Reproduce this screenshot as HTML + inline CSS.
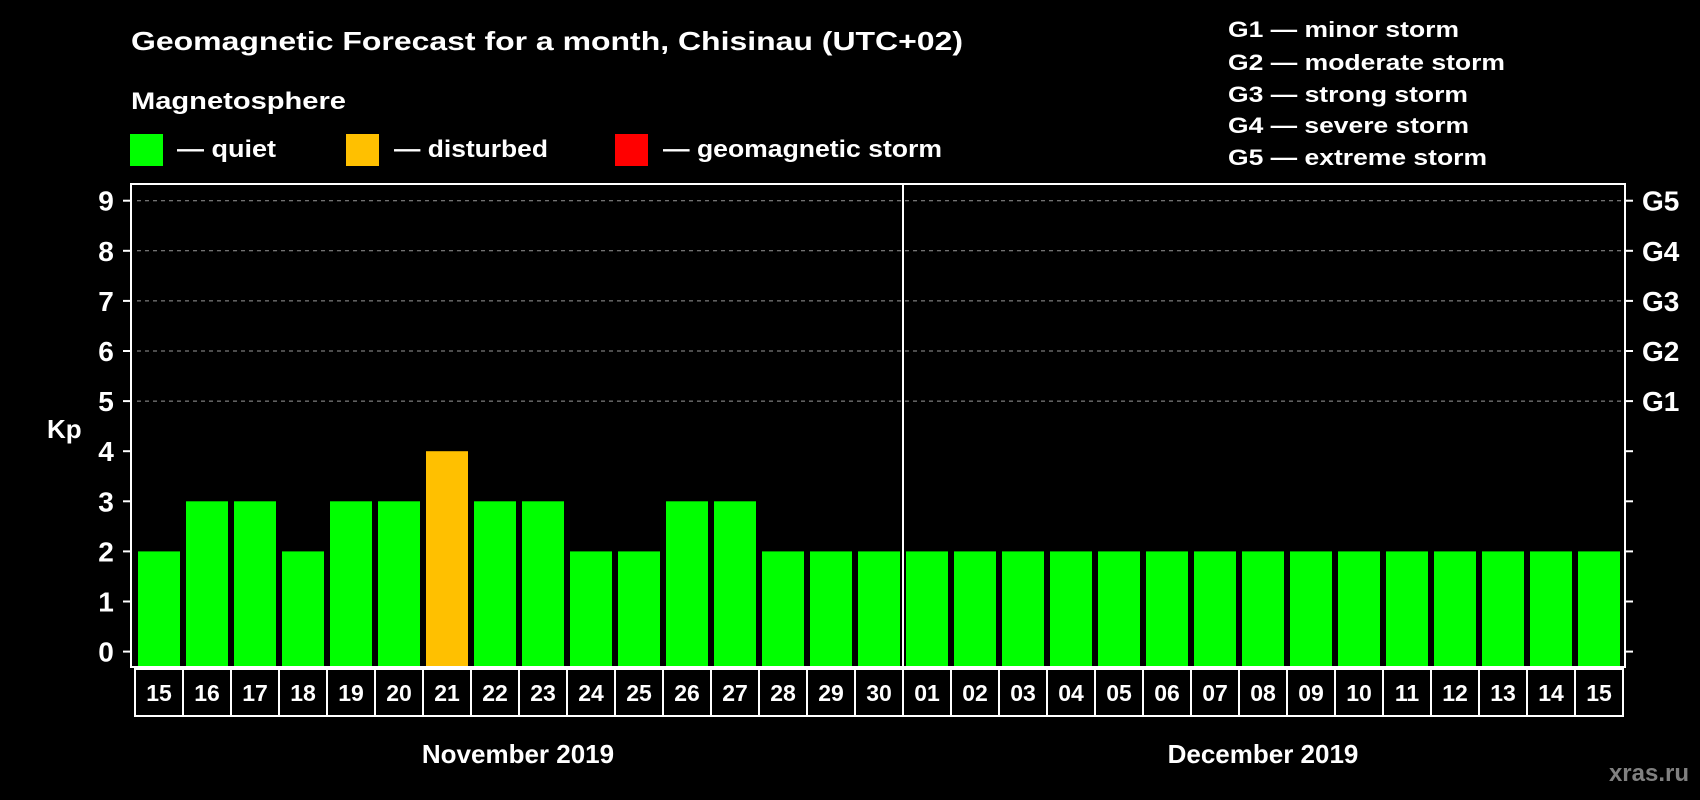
<!DOCTYPE html>
<html><head><meta charset="utf-8"><style>
html,body{margin:0;padding:0;background:#000;width:1700px;height:800px;overflow:hidden}
svg{display:block;font-family:"Liberation Sans",Arial,sans-serif;font-weight:bold}
</style></head><body>
<svg id="chart" width="1700" height="800" viewBox="0 0 1700 800">
<text x="131" y="50" font-size="26" fill="#fff" textLength="832" lengthAdjust="spacingAndGlyphs">Geomagnetic Forecast for a month, Chisinau (UTC+02)</text>
<text x="131" y="109" font-size="24" fill="#fff" textLength="215" lengthAdjust="spacingAndGlyphs">Magnetosphere</text>
<g><rect x="130" y="134" width="33" height="32" fill="#00ff00"/><text x="177" y="157" font-size="24" fill="#fff" textLength="99" lengthAdjust="spacingAndGlyphs">— quiet</text></g>
<g><rect x="346" y="134" width="33" height="32" fill="#ffc000"/><text x="394" y="157" font-size="24" fill="#fff" textLength="154" lengthAdjust="spacingAndGlyphs">— disturbed</text></g>
<g><rect x="615" y="134" width="33" height="32" fill="#ff0000"/><text x="663" y="157" font-size="24" fill="#fff" textLength="279" lengthAdjust="spacingAndGlyphs">— geomagnetic storm</text></g>
<g font-size="22" fill="#fff">
<text x="1228" y="37" textLength="231" lengthAdjust="spacingAndGlyphs">G1 — minor storm</text>
<text x="1228" y="70" textLength="277" lengthAdjust="spacingAndGlyphs">G2 — moderate storm</text>
<text x="1228" y="102" textLength="240" lengthAdjust="spacingAndGlyphs">G3 — strong storm</text>
<text x="1228" y="133" textLength="241" lengthAdjust="spacingAndGlyphs">G4 — severe storm</text>
<text x="1228" y="165" textLength="259" lengthAdjust="spacingAndGlyphs">G5 — extreme storm</text>
</g>
<g id="grid"></g>
<g id="bars"></g>
<rect x="131" y="184" width="1494" height="483" fill="none" stroke="#fff" stroke-width="2"/>
<line x1="903" y1="184" x2="903" y2="667" stroke="#fff" stroke-width="2"/>
<g id="axes"></g>
<g id="xlabels"></g>
<text x="47" y="438" font-size="26" fill="#fff">Kp</text>
<text x="518" y="763" font-size="26" fill="#fff" text-anchor="middle">November 2019</text>
<text x="1263" y="763" font-size="26" fill="#fff" text-anchor="middle">December 2019</text>
<text x="1689" y="781" font-size="24" fill="#808080" text-anchor="end">xras.ru</text>
</svg>
<script>
const days = ["15","16","17","18","19","20","21","22","23","24","25","26","27","28","29","30","01","02","03","04","05","06","07","08","09","10","11","12","13","14","15"];
const kpValues = [2,3,3,2,3,3,4,3,3,2,2,3,3,2,2,2,2,2,2,2,2,2,2,2,2,2,2,2,2,2,2];
const yTicks = [0,1,2,3,4,5,6,7,8,9];
const gLabels = ["G1","G2","G3","G4","G5"];
const NS="http://www.w3.org/2000/svg";
const y0=651.6, unit=50.1, x0=135, step=48, plotBottom=667;
function yScale(v){return y0-v*unit;}
function xScale(i){return x0+i*step;}
function mk(t,a){const e=document.createElementNS(NS,t);for(const k in a)e.setAttribute(k,a[k]);return e;}
const grid=document.getElementById('grid'),bars=document.getElementById('bars'),axes=document.getElementById('axes'),xl=document.getElementById('xlabels');
yTicks.forEach(v=>{
  const y=yScale(v);
  if(v>=5){const l=mk('line',{x1:137,x2:1623,y1:y,y2:y,stroke:'#999','stroke-width':1,'stroke-dasharray':'4,4'});
  
  grid.appendChild(l);}
  const tl=mk('line',{x1:123,x2:131,y1:y,y2:y,stroke:'#fff','stroke-width':2});
  
  axes.appendChild(tl);
  const tr=mk('line',{x1:1625,x2:1633,y1:y,y2:y,stroke:'#fff','stroke-width':2});
  
  axes.appendChild(tr);
  const t=mk('text',{x:106,y:y+10,'font-size':28,fill:'#fff','text-anchor':'middle'});t.textContent=v;
  
  axes.appendChild(t);
  if(v>=5){const g=mk('text',{x:1642,y:y+10,'font-size':28,fill:'#fff'});g.textContent=gLabels[v-5];
  
  axes.appendChild(g);}
});
kpValues.forEach((v,i)=>{
  const col=v>=5?'#ff0000':(v>=4?'#ffc000':'#00ff00');
  const r=mk('rect',{x:xScale(i)+3,y:yScale(v),width:42,height:plotBottom-yScale(v),fill:col});
  
  bars.appendChild(r);
});
days.forEach((d,i)=>{
  const c=mk('rect',{x:xScale(i),y:669,width:step,height:47,fill:'none',stroke:'#fff','stroke-width':2});
  
  xl.appendChild(c);
  const t=mk('text',{x:xScale(i)+step/2,y:701,'font-size':23,fill:'#fff','text-anchor':'middle'});t.textContent=d;
  
  xl.appendChild(t);
});
</script>
</body></html>
